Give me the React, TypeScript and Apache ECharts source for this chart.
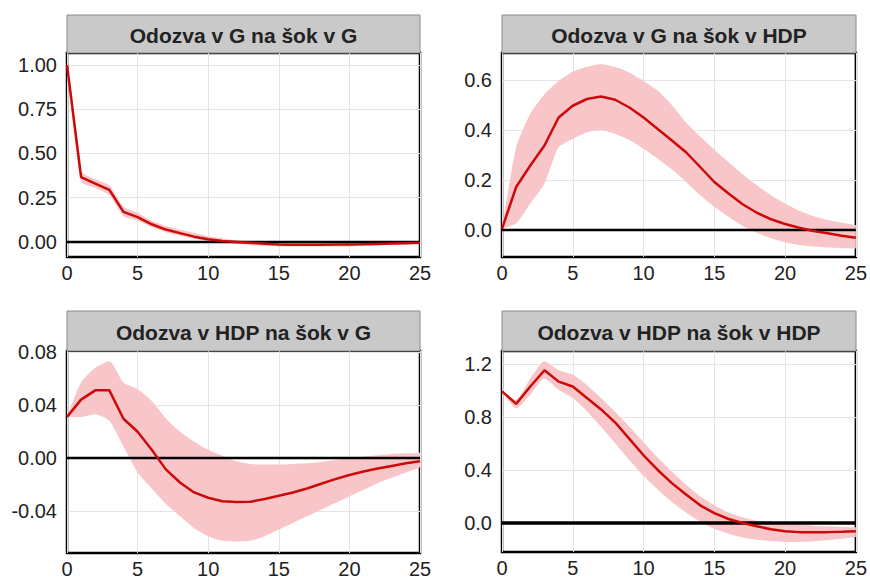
import React, { useEffect, useRef } from "react";
import * as echarts from "echarts";

// Horizon (periods after the shock)
const horizon: string[] = Array.from({ length: 26 }, (_, i) => String(i));

const titles = [
  "Odozva v G na šok v G",
  "Odozva v G na šok v HDP",
  "Odozva v HDP na šok v G",
  "Odozva v HDP na šok v HDP",
];

// Response of G to a G shock
const gOnGMean = [1.0, 0.367, 0.33, 0.294, 0.17, 0.14, 0.1, 0.07, 0.05, 0.03, 0.015, 0.005, 0.0, -0.005, -0.01, -0.015, -0.016, -0.016, -0.016, -0.015, -0.015, -0.013, -0.011, -0.009, -0.007, -0.005];
const gOnGLower = [1.0, 0.34, 0.305, 0.265, 0.145, 0.12, 0.085, 0.055, 0.035, 0.018, 0.005, -0.005, -0.012, -0.018, -0.022, -0.025, -0.026, -0.026, -0.026, -0.025, -0.025, -0.022, -0.019, -0.016, -0.013, -0.01];
const gOnGUpper = [1.0, 0.4, 0.355, 0.32, 0.2, 0.165, 0.12, 0.09, 0.07, 0.05, 0.032, 0.02, 0.01, 0.005, 0.0, -0.003, -0.005, -0.006, -0.006, -0.005, -0.005, -0.004, -0.003, -0.002, -0.001, 0.0];

// Response of G to a GDP shock
const gOnYMean = [0.005, 0.172, 0.258, 0.338, 0.45, 0.497, 0.524, 0.534, 0.521, 0.49, 0.45, 0.404, 0.358, 0.311, 0.252, 0.192, 0.146, 0.103, 0.069, 0.043, 0.024, 0.009, -0.004, -0.013, -0.023, -0.031];
const gOnYLower = [0.005, 0.027, 0.106, 0.186, 0.331, 0.364, 0.391, 0.4, 0.384, 0.36, 0.325, 0.285, 0.242, 0.192, 0.139, 0.093, 0.053, 0.016, -0.011, -0.033, -0.049, -0.06, -0.066, -0.07, -0.073, -0.074];
const gOnYUpper = [0.005, 0.331, 0.465, 0.543, 0.596, 0.633, 0.653, 0.663, 0.652, 0.63, 0.596, 0.557, 0.5, 0.43, 0.374, 0.321, 0.272, 0.223, 0.179, 0.139, 0.106, 0.077, 0.056, 0.04, 0.029, 0.02];

// Response of GDP to a G shock
const yOnGMean = [0.031, 0.044, 0.051, 0.051, 0.0296, 0.0198, 0.0062, -0.0086, -0.0185, -0.026, -0.03, -0.0326, -0.0333, -0.033, -0.031, -0.0285, -0.026, -0.023, -0.0195, -0.016, -0.0128, -0.0102, -0.008, -0.006, -0.004, -0.0025];
const yOnGLower = [0.031, 0.031, 0.033, 0.028, 0.0086, -0.011, -0.023, -0.0346, -0.044, -0.053, -0.059, -0.0625, -0.063, -0.0625, -0.059, -0.054, -0.049, -0.044, -0.039, -0.034, -0.029, -0.024, -0.019, -0.015, -0.011, -0.007];
const yOnGUpper = [0.031, 0.057, 0.068, 0.073, 0.057, 0.052, 0.043, 0.03, 0.0198, 0.0123, 0.0062, 0.0017, -0.0025, -0.0045, -0.005, -0.005, -0.0045, -0.004, -0.003, -0.0015, 0.0, 0.001, 0.002, 0.003, 0.0035, 0.004];

// Response of GDP to a GDP shock
const yOnYMean = [0.993, 0.899, 1.03, 1.153, 1.067, 1.03, 0.943, 0.857, 0.758, 0.635, 0.511, 0.4, 0.301, 0.215, 0.133, 0.074, 0.03, 0.0, -0.025, -0.047, -0.062, -0.069, -0.069, -0.069, -0.066, -0.062];
const yOnYLower = [0.993, 0.864, 0.968, 1.09, 1.005, 0.943, 0.844, 0.726, 0.602, 0.474, 0.356, 0.252, 0.158, 0.079, 0.01, -0.044, -0.081, -0.109, -0.126, -0.138, -0.143, -0.143, -0.138, -0.131, -0.119, -0.106];
const yOnYUpper = [0.993, 0.93, 1.09, 1.22, 1.153, 1.12, 1.04, 0.943, 0.837, 0.726, 0.61, 0.494, 0.388, 0.289, 0.202, 0.133, 0.079, 0.042, 0.017, 0.005, -0.005, -0.012, -0.02, -0.025, -0.03, -0.032];

// Tick labels on the value axes
const gOnGTicks = [0, 0.25, 0.5, 0.75, 1.0];
const gOnYTicks = [0, 0.2, 0.4, 0.6];
const yOnGTicks = [-0.04, 0, 0.04, 0.08];
const yOnYTicks = [0, 0.4, 0.8, 1.2];

const panels = [
  { mean: gOnGMean, lower: gOnGLower, upper: gOnGUpper, ticks: gOnGTicks, digits: 2, min: -0.085, max: 1.068, zero: 2.5 },
  { mean: gOnYMean, lower: gOnYLower, upper: gOnYUpper, ticks: gOnYTicks, digits: 1, min: -0.108, max: 0.708, zero: 2.5 },
  { mean: yOnGMean, lower: yOnGLower, upper: yOnGUpper, ticks: yOnGTicks, digits: 2, min: -0.0717, max: 0.0807, zero: 2.5 },
  { mean: yOnYMean, lower: yOnYLower, upper: yOnYUpper, ticks: yOnYTicks, digits: 1, min: -0.219, max: 1.298, zero: 3.5 },
];

// Plot rectangles: [left, top, width, height]
const boxes = [
  [67, 53, 353, 204],
  [502, 53, 354, 204],
  [67, 351, 353, 202],
  [502, 351, 354, 201],
];
const headers = [
  [67, 15, 353, 38],
  [502, 15, 354, 38],
  [67, 311, 353, 40],
  [502, 311, 354, 40],
];

const FONT = "'Liberation Sans', Arial, sans-serif";
const RED = "#cc0a0a";
const PINK = "#f8c6c8";

export default function App() {
  const ref = useRef<HTMLDivElement>(null);

  useEffect(() => {
    if (!ref.current) return;
    const chart = echarts.init(ref.current, null, { renderer: "svg" });

    const grid = boxes.map(([l, t, w, h]) => ({
      left: l,
      top: t,
      width: w,
      height: h,
      show: true,
      borderColor: "#000",
      borderWidth: 2.5,
      backgroundColor: "#fff",
      containLabel: false,
    }));

    const xAxis = boxes.map((_, i) => ({
      type: "category",
      gridIndex: i,
      data: horizon,
      boundaryGap: false,
      axisLine: { show: false },
      axisTick: { show: false },
      axisLabel: {
        color: "#222",
        fontFamily: FONT,
        fontSize: 20,
        margin: 6,
        interval: 4,
      },
      splitLine: { show: true, interval: 4, lineStyle: { color: "#e4e4e4", width: 1 } },
    }));

    const yAxis = panels.map((p, i) => ({
      type: "value",
      gridIndex: i,
      min: p.min,
      max: p.max,
      axisLine: { show: false },
      axisTick: { show: false, customValues: p.ticks },
      axisLabel: {
        color: "#222",
        fontFamily: FONT,
        fontSize: 20,
        margin: 10,
        customValues: p.ticks,
        formatter: (v: number) => v.toFixed(p.digits),
      },
      splitLine: { show: true, lineStyle: { color: "#e4e4e4", width: 1 } },
    }));

    const series: any[] = [];
    panels.forEach((p, i) => {
      const stack = "band" + i;
      // lower edge of the band (invisible base of the stack)
      series.push({
        type: "line",
        xAxisIndex: i,
        yAxisIndex: i,
        stack,
        stackStrategy: "all",
        data: p.lower,
        symbol: "none",
        smooth: 0.2,
        lineStyle: { opacity: 0 },
        silent: true,
        z: 2,
      });
      // band width stacked on the lower edge
      series.push({
        type: "line",
        xAxisIndex: i,
        yAxisIndex: i,
        stack,
        stackStrategy: "all",
        data: p.upper.map((u, k) => u - p.lower[k]),
        symbol: "none",
        smooth: 0.2,
        lineStyle: { opacity: 0 },
        areaStyle: { color: PINK, opacity: 1 },
        silent: true,
        z: 2,
      });
      // zero reference line
      series.push({
        type: "line",
        xAxisIndex: i,
        yAxisIndex: i,
        data: horizon.map(() => 0),
        symbol: "none",
        lineStyle: { color: "#000", width: p.zero },
        silent: true,
        z: 3,
      });
      // point estimate
      series.push({
        type: "line",
        xAxisIndex: i,
        yAxisIndex: i,
        data: p.mean,
        symbol: "none",
        lineStyle: { color: RED, width: 2.5 },
        silent: true,
        z: 4,
      });
    });

    const graphic: any[] = [];
    headers.forEach(([l, t, w, h], i) => {
      graphic.push({
        type: "rect",
        shape: { x: l, y: t, width: w, height: h },
        style: { fill: "#c9c9c9", stroke: "#8a8a8a", lineWidth: 1 },
        z: 10,
      });
      graphic.push({
        type: "text",
        x: l + w / 2,
        y: t + h / 2 + 1,
        style: {
          text: titles[i],
          fill: "#222",
          font: `bold 21px ${FONT}`,
          textAlign: "center",
          textVerticalAlign: "middle",
        },
        z: 11,
      });
    });

    chart.setOption({
      animation: false,
      backgroundColor: "#fff",
      grid,
      xAxis,
      yAxis,
      series,
      graphic,
    });

    return () => chart.dispose();
  }, []);

  return (
    <div
      ref={ref}
      style={{ position: "fixed", left: 0, top: 0, width: 870, height: 581 }}
    />
  );
}
